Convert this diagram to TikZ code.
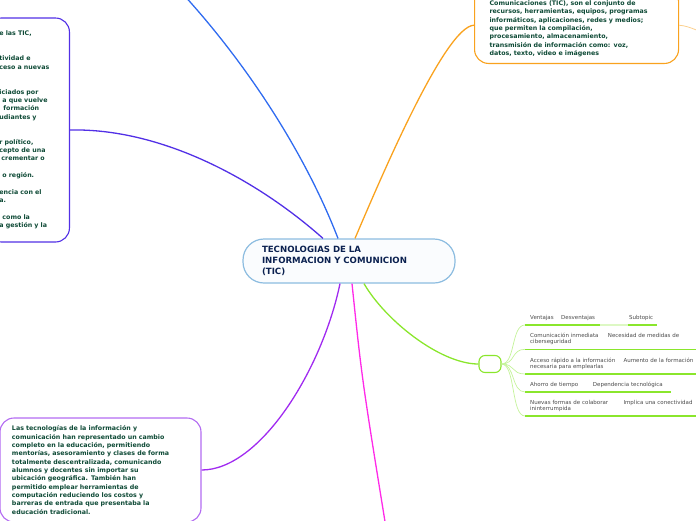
\documentclass[tikz,border=0pt]{standalone}
\usepackage{fontspec}
\setmainfont{DejaVu Sans}
\usetikzlibrary{calc}
\definecolor{navy}{HTML}{0B2150}
\definecolor{ink}{HTML}{0E4A36}
\definecolor{subgray}{HTML}{4A4A4A}
\definecolor{ticblue}{HTML}{8CBCE0}
\definecolor{ticfill}{HTML}{FAFCFE}
\definecolor{orng}{HTML}{F9A21E}
\definecolor{orngl}{HTML}{FBD08E}
\definecolor{blu}{HTML}{2F6BF0}
\definecolor{indg}{HTML}{5230E6}
\definecolor{vio}{HTML}{A02AF0}
\definecolor{viol}{HTML}{B36BF2}
\definecolor{mag}{HTML}{FF2AE8}
\definecolor{grn}{HTML}{8AE62C}
\definecolor{grnl}{HTML}{C4F39A}
\definecolor{grnp}{HTML}{DDF8C4}
\tikzset{
  topic/.style={draw=#1, line width=1.1pt, fill=white, rounded corners=14pt, align=left,
    text=ink, font=\fontsize{6.3}{8.35}\selectfont\bfseries},
  branch/.style={line width=1.3pt, #1},
  twig/.style={line width=0.7pt, grnl},
  leaf/.style={anchor=south west, inner xsep=5pt, inner ysep=3.8pt, align=left,
    text width=#1, text=subgray, font=\fontsize{5.5}{6.6}\selectfont,
    execute at end node={\rule[-1.4pt]{0pt}{1pt}}},
  uline/.style={line width=1.6pt, grn},
}
\newcommand{\leafpair}[3]{\makebox[#1][l]{#2}#3}

\begin{document}
\begin{tikzpicture}[x=1pt,y=-1pt]
  \useasboundingbox (0,0) rectangle (696,520);
  % central topic
  \node[draw=ticblue, line width=1.2pt, fill=ticfill, rounded corners=21pt,
    minimum width=212pt, minimum height=44pt, text width=174pt, inner xsep=19pt,
    align=left, text=navy, font=\fontsize{8.6}{11.3}\selectfont\bfseries]
    (tic) at (349,261) {TECNOLOGIAS DE LA\\INFORMACION Y COMUNICION\\(TIC)};
  % main topics
  \node[topic=orng, anchor=south west, minimum width=204pt, text width=174pt,
    inner xsep=15pt, inner ysep=6.5pt] (def) at (474,64)
    {\rule{0pt}{12pt}Comunicaciones (TIC), son el conjunto de\\
     recursos, herramientas, equipos, programas\\
     informáticos, aplicaciones, redes y medios;\\
     que permiten la compilación,\\
     procesamiento, almacenamiento,\\
     transmisión de información como: voz,\\
     datos, texto, video e imágenes};
  \node[topic=indg, anchor=east, minimum height=224pt, text width=58pt,
    inner xsep=12pt] (uses) at (70,130)
    {e las TIC,\\[16.7pt]
     tividad e\\
     ceso a nuevas\\[16.7pt]
     iciados por\\
     \hspace*{3pt}a que vuelve\\
     \hspace*{4pt}formación\\
     udiantes y\\[16.7pt]
     r político,\\
     cepto de una\\
     \hspace*{2pt}crementar o\\[8.35pt]
     \hspace*{3pt}o región.\\[8.35pt]
     encia con el\\
     a.\\[8.35pt]
     \hspace*{3pt}como la\\
     a gestión y la};
  \node[topic=viol, minimum width=201pt, minimum height=104pt, text width=177pt,
    inner xsep=12pt] (app) at (100.5,470)
    {Las tecnologías de la información y\\
     comunicación han representado un cambio\\
     completo en la educación, permitiendo\\
     mentorías, asesoramiento y clases de forma\\
     totalmente descentralizada, comunicando\\
     alumnos y docentes sin importar su\\
     ubicación geográfica. También han\\
     permitido emplear herramientas de\\
     computación reduciendo los costos y\\
     barreras de entrada que presentaba la\\
     educación tradicional.};
  \node[draw=grn, line width=1.1pt, fill=white, rounded corners=6pt,
    minimum width=22pt, minimum height=17pt] (hub) at (490,364) {};
  % free ends off the page
  \coordinate (upb) at (160,-30);
  \coordinate (dnm) at (388,540);
  \coordinate (orr) at (720,40);
  % branches
  \draw[branch=blu] ([xshift=-11pt]tic.north) .. controls (300,140) and (230,40) .. (upb);
  \draw[branch=indg] ([xshift=-26pt]tic.north) .. controls (255,178) and (160,128) .. (uses.east);
  \draw[branch=orng] ([xshift=6pt]tic.north) .. controls (380,180) and (445,26) .. (def.west);
  \draw[branch=orngl, line width=0.8pt] (def.east) .. controls (690,26) and (700,32) .. (orr);
  \draw[branch=vio] ([xshift=-9pt]tic.south) .. controls (322,370) and (260,470) .. (app.east);
  \draw[branch=mag] ([xshift=3pt]tic.south) .. controls (362,380) .. (dnm);
  \draw[branch=grn] ([xshift=15pt]tic.south) .. controls (385,320) and (440,364) .. (hub.west);
  % subtopics
  \node[leaf=21pt] (v1) at (525,325) {Ventajas};
  \node[leaf=34pt] (v2) at (556,325) {Desventajas};
  \node[leaf=27pt, inner xsep=1pt] (v3) at (628,325) {Subtopic};
  \node[leaf=170pt] (l2) at (525,349.3)
    {\leafpair{77.7pt}{Comunicación inmediata}{Necesidad de medidas de}\\ciberseguridad};
  \node[leaf=170pt] (l3) at (525,374)
    {\leafpair{93.3pt}{Acceso rápido a la información}{Aumento de la formación}\\necesaria para emplearlas};
  \node[leaf=136pt] (l4) at (525,392)
    {\leafpair{62.7pt}{Ahorro de tiempo}{Dependencia tecnológica}};
  \node[leaf=170pt] (l5) at (525,416)
    {\leafpair{93.3pt}{Nuevas formas de colaborar}{Implica una conectividad}\\ininterrumpida};
  \foreach \n in {v1,v2,v3,l2,l3,l4,l5}
    \draw[uline] (\n.south west) -- (\n.south east);
  \draw[line width=1.6pt, grnp] (v2.south east) -- (v3.south west);
  \foreach \n in {v1,l2,l3,l4,l5}
    \draw[twig] (hub.east) .. controls +(14,0) and +(-14,0) .. (\n.south west);
\end{tikzpicture}
\end{document}
